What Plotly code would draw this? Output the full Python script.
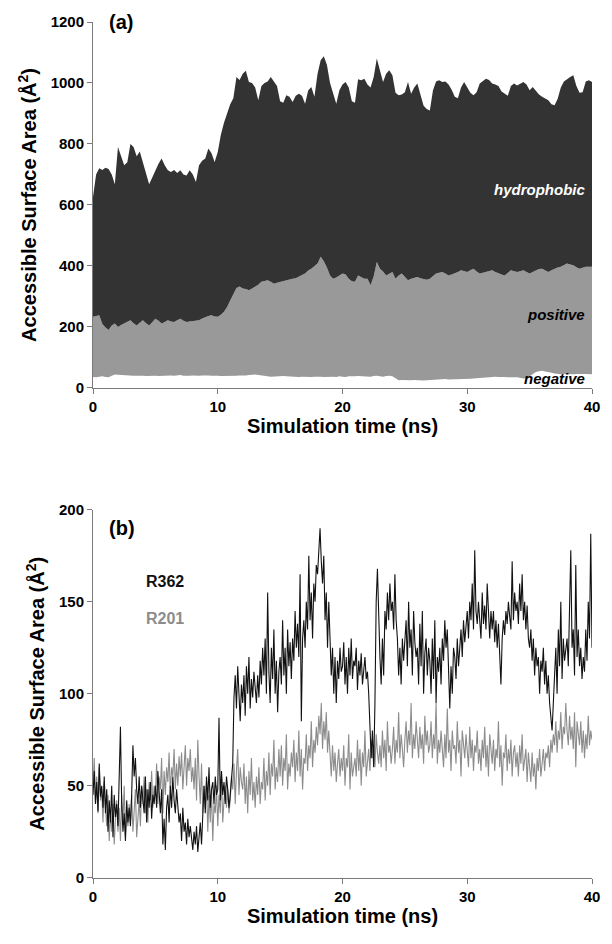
import plotly.graph_objects as go

# ---------------- Panel (a): cumulative accessible surface area levels ----------------
# sampled every 0.25 ns from 0 to 40 ns
time_a = [i * 0.25 for i in range(161)]

negative_top = [
    36, 35, 37, 38, 36, 35, 40, 44,
    43, 42, 41, 42, 41, 40, 40, 41,
    40, 39, 40, 41, 40, 39, 40, 41,
    40, 41, 40, 41, 42, 40, 39, 40,
    41, 40, 40, 41, 42, 41, 40, 41,
    40, 39, 39, 40, 39, 38, 40, 41,
    40, 41, 42, 43, 44, 42, 40, 39,
    38, 37, 38, 37, 38, 39, 38, 37,
    38, 37, 36, 37, 36, 35, 36, 37,
    38, 37, 36, 37, 38, 37, 36, 38,
    37, 36, 38, 37, 38, 39, 38, 37,
    38, 37, 39, 40, 38, 37, 39, 40,
    38, 30, 25, 26, 25, 24, 25, 26,
    25, 24, 24, 25, 26, 27, 28, 29,
    28, 29, 28, 28, 29, 28, 28, 29,
    30, 30, 31, 32, 33, 34, 35, 36,
    36, 37, 36, 37, 36, 35, 36, 35,
    35, 33, 31, 32, 38, 45, 52, 55,
    56, 54, 53, 50, 47, 45, 45, 46,
    45, 46, 45, 46, 47, 46, 46, 45,
    45,
]

positive_top = [
    233, 236, 238, 210, 198, 190, 205, 211,
    200, 206, 211, 215, 222, 212, 205, 214,
    222, 212, 205, 215, 227, 220, 211, 216,
    222, 218, 216, 222, 227, 220, 216, 218,
    219, 220, 222, 228, 233, 236, 238, 234,
    233, 240, 250, 265, 287, 310, 328, 333,
    326, 324, 320, 326, 331, 338, 348, 350,
    353, 348, 342, 345, 348, 350, 353, 355,
    358, 360, 364, 370, 375, 385, 391, 400,
    408, 430, 415, 395, 369, 358, 362, 369,
    375, 372, 358, 350, 348, 369, 364, 358,
    358, 337, 365, 413, 391, 382, 369, 375,
    380, 358, 369, 375, 362, 353, 358, 362,
    364, 360, 358, 355, 358, 368, 375, 378,
    380, 375, 369, 372, 375, 380, 386, 383,
    380, 386, 391, 382, 375, 378, 380, 384,
    386, 380, 375, 372, 369, 378, 386, 383,
    380, 383, 386, 380, 375, 380, 386, 390,
    391, 385, 380, 386, 391, 395, 397, 402,
    408, 405, 402, 396, 391, 394, 397, 397,
    397,
]

hydrophobic_top = [
    626, 700, 720, 715, 722, 718, 700, 668,
    790, 760, 730, 740, 800, 790, 760, 775,
    740, 700, 668, 690, 715, 735, 752, 730,
    714, 708, 715, 705, 714, 700, 697, 714,
    700, 675, 730, 745, 752, 785, 770, 741,
    774, 830, 870, 900, 930, 950, 1020, 1010,
    1030, 1040, 1003, 1000, 985, 943, 990, 1000,
    1005, 1020, 1005, 990, 940, 935, 960, 955,
    938, 958, 965, 958, 932, 975, 987, 955,
    1030, 1075, 1088, 1060, 1000, 965, 932, 976,
    995, 1003, 985, 940, 935, 1012, 1009, 1014,
    995, 985, 1020, 1080, 1040, 1003, 1030, 1042,
    1025, 968, 960, 962, 970, 1003, 965, 985,
    998, 958, 925, 915, 910, 975, 1005, 1009,
    1003, 1005, 995, 978, 955, 950, 985, 1003,
    987, 968, 960, 970, 998, 1005, 1014, 1010,
    998, 995, 990, 972, 965, 958, 990, 998,
    992, 998, 1003, 995, 976, 987, 975, 962,
    955, 950, 943, 930, 927, 948, 985, 1005,
    1014, 1020, 1025, 990, 968, 970, 1005, 1009,
    1003,
]

# ---------------- Panel (b): residue ASA, sampled every 0.1 ns ----------------
time_b = [i * 0.1 for i in range(401)]

r362 = [
    45, 58, 40, 52, 36, 62, 44, 50, 38, 55,
    35, 48, 25, 42, 30, 50, 22, 45, 33, 40,
    28, 52, 82, 40, 25, 35, 20, 42, 30, 38,
    28, 45, 72, 55, 65, 48, 40, 55, 38, 50,
    42, 35, 55, 30, 48, 38, 52, 32, 45, 40,
    50, 38, 58, 45, 35, 48, 18, 32, 15, 38,
    45, 30, 50, 38, 55, 42, 35, 48, 40, 30,
    35, 20, 38, 25, 30, 18, 32, 22, 28, 20,
    15, 25, 18, 28, 14, 22, 30, 18, 40, 50,
    35, 55, 42, 60, 38, 48, 52, 40, 55, 45,
    48, 87, 42, 58, 45, 52, 40, 55, 48, 38,
    45, 52, 62, 98, 110, 92, 115, 100, 85, 105,
    95, 110, 88, 115, 100, 120, 92, 108, 98, 112,
    102, 95, 110, 98, 118, 105, 125, 110, 130, 100,
    155, 112, 95, 125, 108, 135, 100, 118, 90, 112,
    120, 105, 140, 110, 125, 100, 135, 115, 128, 108,
    130, 118, 145, 125, 138, 120, 165, 85, 130, 140,
    125, 150, 135, 175, 140, 155, 130, 160, 150, 170,
    165, 180, 190, 172, 160, 175, 140, 155, 125, 150,
    130, 110, 125, 100, 120, 95, 118, 108, 125, 112,
    115, 128, 105, 120, 100, 125, 110, 130, 108, 118,
    115, 125, 102, 118, 110, 122, 105, 115, 120, 108,
    112, 100, 85, 65, 80, 60, 95, 150, 168, 140,
    120, 105, 130, 110, 145, 135, 155, 140, 160, 145,
    150, 135, 165, 140, 130, 110, 125, 105, 130, 118,
    130, 140, 115, 150, 125, 135, 110, 145, 128, 120,
    125, 105, 138, 115, 145, 100, 122, 130, 110, 125,
    118, 100, 130, 108, 140, 95, 120, 112, 125, 105,
    130, 118, 140, 125, 135, 110, 92, 115, 100, 125,
    120, 108, 130, 115, 125, 135, 120, 140, 128, 138,
    145, 130, 150, 140, 160, 135, 178, 145, 138, 150,
    140, 130, 155, 138, 148, 135, 160, 142, 130, 145,
    135, 145, 128, 140, 125, 138, 120, 105, 130, 140,
    132, 145, 138, 150, 142, 135, 172, 140, 155, 145,
    150, 138, 160, 145, 165, 140, 150, 135, 148, 130,
    125, 135, 118, 130, 110, 125, 115, 120, 100, 118,
    112, 125, 105, 118, 100, 110, 95, 85, 80, 95,
    110, 125, 100, 135, 115, 150, 108, 130, 118, 125,
    130, 115, 140, 178, 125, 135, 110, 170, 120, 135,
    115, 125, 108, 120, 112, 135, 118, 150, 130, 187,
    125,
]

r201 = [
    50, 65, 40, 55, 35, 60, 42, 48, 30, 52,
    38, 28, 45, 20, 35, 25, 40, 18, 32, 42,
    25, 38, 20, 45, 30, 50, 22, 35, 28, 40,
    30, 45, 25, 38, 48, 22, 35, 42, 28, 50,
    40, 55, 35, 48, 30, 52, 42, 58, 38, 50,
    45, 62, 40, 55, 48, 65, 35, 58, 45, 60,
    52, 68, 45, 60, 55, 70, 48, 62, 50, 66,
    55, 68, 48, 62, 72, 50, 65, 58, 70, 52,
    60, 48, 65, 42, 75, 55, 40, 62, 35, 50,
    38, 52, 25, 45, 30, 48, 20, 40, 35, 50,
    28, 45, 35, 55, 30, 42, 50, 38, 48, 35,
    42, 55, 48, 62, 40, 58, 70, 45, 60, 52,
    48, 62, 40, 55, 35, 58, 45, 65, 42, 52,
    38, 55, 45, 60, 40, 52, 48, 65, 42, 58,
    50, 68, 45, 62, 55, 75, 48, 60, 52, 70,
    55, 72, 50, 65, 58, 78, 48, 62, 55, 68,
    60, 75, 52, 68, 58, 80, 55, 70, 48, 65,
    62, 78, 58, 72, 65, 85, 60, 75, 68, 82,
    72, 88, 78, 95, 70, 85, 75, 90, 68, 80,
    65, 55, 72, 58, 68, 52, 62, 70, 55, 65,
    58, 72, 50, 65, 60, 78, 48, 68, 55, 62,
    65, 55, 75, 58, 70, 50, 68, 60, 80, 55,
    62, 70, 58, 75, 65, 72, 60, 78, 68, 62,
    72, 60, 80, 65, 75, 58, 85, 68, 72, 62,
    70, 82, 62, 75, 68, 90, 65, 78, 70, 60,
    75, 85, 68, 80, 72, 95, 65, 78, 70, 85,
    75, 65, 82, 70, 78, 62, 88, 72, 80, 68,
    72, 85, 65, 78, 70, 95, 62, 75, 68, 80,
    70, 60, 78, 65, 92, 68, 75, 58, 80, 70,
    72, 62, 85, 68, 75, 55, 80, 70, 65, 78,
    70, 60, 82, 65, 75, 58, 72, 68, 80, 62,
    70, 58, 75, 65, 82, 60, 72, 55, 78, 68,
    62, 75, 58, 70, 65, 85, 60, 72, 50, 68,
    65, 78, 58, 70, 62, 75, 55, 68, 72, 60,
    68, 55, 72, 62, 78, 58, 65, 70, 52, 68,
    60, 52, 68, 55, 62, 48, 65, 58, 70, 55,
    62, 70, 58, 68, 65, 72, 60, 75, 68, 78,
    72, 85, 68, 80, 75, 90, 70, 82, 78, 95,
    80, 72, 88, 75, 82, 70, 90, 60, 85, 78,
    72, 85, 68, 80, 65, 78, 70, 88, 72, 80,
    75,
]

x_ticks = [0, 10, 20, 30, 40]
ya_ticks = [0, 200, 400, 600, 800, 1000, 1200]
yb_ticks = [0, 50, 100, 150, 200]

FONT = "Arial, Liberation Sans, sans-serif"
AXIS_GRAY = "#7a7a7a"

fig = go.Figure()

# Panel (a) stacked areas (levels)
fig.add_trace(go.Scatter(x=time_a, y=negative_top, mode="lines", line=dict(width=0, color="white"),
                         fill="tozeroy", fillcolor="white", name="negative",
                         xaxis="x", yaxis="y", showlegend=False))
fig.add_trace(go.Scatter(x=time_a, y=positive_top, mode="lines", line=dict(width=0, color="#999999"),
                         fill="tonexty", fillcolor="#999999", name="positive",
                         xaxis="x", yaxis="y", showlegend=False))
fig.add_trace(go.Scatter(x=time_a, y=hydrophobic_top, mode="lines", line=dict(width=0, color="#333333"),
                         fill="tonexty", fillcolor="#333333", name="hydrophobic",
                         xaxis="x", yaxis="y", showlegend=False))

# Panel (b) lines
fig.add_trace(go.Scatter(x=time_b, y=r201, mode="lines", line=dict(width=1.1, color="#8c8c8c"),
                         name="R201", xaxis="x2", yaxis="y2", showlegend=False))
fig.add_trace(go.Scatter(x=time_b, y=r362, mode="lines", line=dict(width=1.1, color="#111111"),
                         name="R362", xaxis="x2", yaxis="y2", showlegend=False))

tickfont = dict(family=FONT, size=15, color="black", weight="bold")
titlefont = dict(family=FONT, size=20, color="black", weight="bold")

common_x = dict(range=[0, 40], tickvals=x_ticks, ticks="outside", ticklen=5, tickcolor=AXIS_GRAY,
                showline=True, linecolor=AXIS_GRAY, linewidth=1, showgrid=False, zeroline=False,
                automargin=False, tickfont=tickfont,
                title=dict(text="Simulation time (ns)", font=titlefont, standoff=5))
common_y = dict(ticks="outside", ticklen=5, tickcolor=AXIS_GRAY, showline=True, linecolor=AXIS_GRAY,
                linewidth=1, showgrid=False, zeroline=False, automargin=False, tickfont=tickfont,
                title=dict(text="Accessible Surface Area (Å<sup>2</sup>)", font=titlefont, standoff=8))

# the page body adds an 8 px offset, so the figure is sized to fit inside the window
fig.update_layout(
    width=596, height=928,
    margin=dict(l=85, r=12, t=2, b=2),
    paper_bgcolor="white", plot_bgcolor="white",
    xaxis=dict(domain=[0, 1], anchor="y", **common_x),
    yaxis=dict(domain=[0.591, 0.987], anchor="x", range=[0, 1200], tickvals=ya_ticks, **common_y),
    xaxis2=dict(domain=[0, 1], anchor="y2", **common_x),
    yaxis2=dict(domain=[0.061, 0.459], anchor="x2", range=[0, 200], tickvals=yb_ticks, **common_y),
)

ann_font_italic = dict(family=FONT, size=15, weight="bold", style="italic")
fig.add_annotation(x=1.1, y=1200, xref="x", yref="y", text="(a)", showarrow=False,
                   font=dict(family=FONT, size=20, color="black", weight="bold"),
                   xanchor="left", yanchor="middle")
fig.add_annotation(x=39.6, y=650, xref="x", yref="y", text="hydrophobic", showarrow=False,
                   font=dict(color="white", **ann_font_italic), xanchor="right", yanchor="middle")
fig.add_annotation(x=39.6, y=240, xref="x", yref="y", text="positive", showarrow=False,
                   font=dict(color="black", **ann_font_italic), xanchor="right", yanchor="middle")
fig.add_annotation(x=39.6, y=30, xref="x", yref="y", text="negative", showarrow=False,
                   font=dict(color="black", **ann_font_italic), xanchor="right", yanchor="middle")

fig.add_annotation(x=1.1, y=190, xref="x2", yref="y2", text="(b)", showarrow=False,
                   font=dict(family=FONT, size=20, color="black", weight="bold"),
                   xanchor="left", yanchor="middle")
fig.add_annotation(x=5.8, y=161, xref="x2", yref="y2", text="R362", showarrow=False,
                   font=dict(family=FONT, size=16, color="#111111", weight="bold"),
                   xanchor="center", yanchor="middle")
fig.add_annotation(x=5.8, y=141, xref="x2", yref="y2", text="R201", showarrow=False,
                   font=dict(family=FONT, size=16, color="#8c8c8c", weight="bold"),
                   xanchor="center", yanchor="middle")

fig.write_html("out.html")
